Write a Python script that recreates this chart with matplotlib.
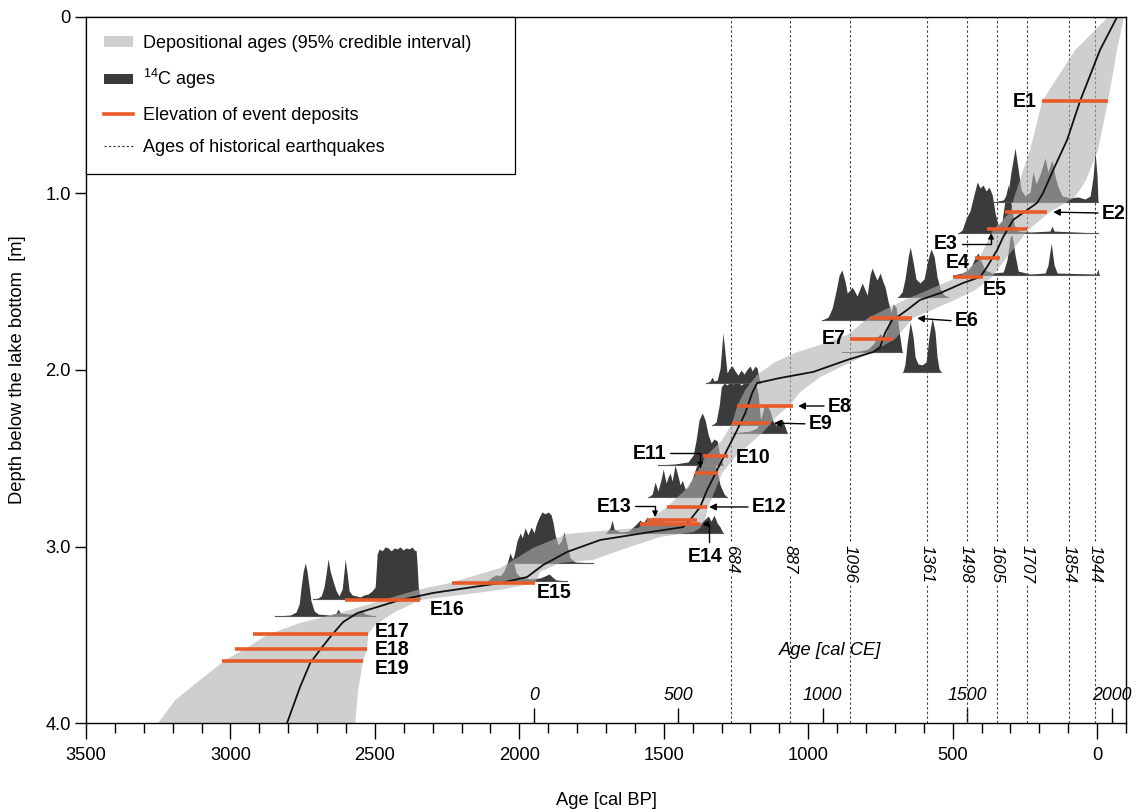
import numpy as np
import matplotlib
matplotlib.use("Agg")
import matplotlib.pyplot as plt
from matplotlib import font_manager
from matplotlib.lines import Line2D
from matplotlib.patches import Patch
from matplotlib.ticker import MultipleLocator, FixedLocator, NullLocator

# ------------------------------------------------------------------
# Age-depth model (ages in cal BP, depth in m below lake bottom)
# ------------------------------------------------------------------
median_age = [-69, -10, 59, 104, 152, 187, 208, 242, 291, 325,
              346, 381, 405, 464, 543, 613, 658, 692, 710, 734,
              751, 775, 865, 983, 1097, 1177, 1194, 1218, 1246, 1281,
              1298, 1350, 1374, 1409, 1433, 1547, 1720, 1835, 1918, 1973,
              2066, 2298, 2413, 2492, 2561, 2610, 2655, 2690, 2724, 2759,
              2804]
median_depth = [0, 0.187, 0.476, 0.697, 0.867, 0.997, 1.054, 1.093, 1.150, 1.246,
                1.320, 1.416, 1.473, 1.507, 1.564, 1.603, 1.660, 1.700, 1.717, 1.790,
                1.870, 1.898, 1.943, 2.011, 2.045, 2.074, 2.130, 2.244, 2.340, 2.453,
                2.510, 2.680, 2.776, 2.850, 2.890, 2.918, 2.963, 3.031, 3.105, 3.173,
                3.207, 3.263, 3.303, 3.343, 3.377, 3.428, 3.513, 3.586, 3.660, 3.796,
                4.0]

# 95 % credible envelope: older boundary and younger boundary
band_old_age = [-38, 76, 190, 232, 267, 287, 301, 360, 412, 481,
                585, 665, 793, 865, 959, 1038, 1115, 1177, 1218, 1246,
                1263, 1298, 1357, 1385, 1426, 1488, 1558, 1589, 1720, 1835,
                1952, 2066, 2240, 2354, 2471, 2610, 2759, 2873, 2956, 3018,
                3105, 3191, 3250]
band_old_depth = [0, 0.187, 0.476, 0.754, 0.924, 1.020, 1.105, 1.207, 1.382, 1.473,
                  1.547, 1.603, 1.705, 1.802, 1.858, 1.898, 1.955, 2.028, 2.113, 2.204,
                  2.300, 2.397, 2.493, 2.584, 2.680, 2.776, 2.856, 2.895, 2.912, 2.929,
                  3.008, 3.122, 3.207, 3.246, 3.303, 3.371, 3.433, 3.501, 3.586, 3.643,
                  3.756, 3.870, 4.0]
band_young_age = [-93, -69, -38, -3, 38, 76, 163, 239, 322, 363,
                  422, 492, 637, 699, 779, 865, 959, 1028, 1063, 1115,
                  1149, 1194, 1253, 1298, 1322, 1346, 1357, 1374, 1398, 1513,
                  1627, 1745, 1859, 1928, 1945, 2066, 2205, 2343, 2430, 2499,
                  2523, 2527, 2541, 2558, 2568]
band_young_depth = [0, 0.187, 0.476, 0.754, 0.924, 1.020, 1.105, 1.207, 1.382, 1.473,
                    1.547, 1.603, 1.705, 1.824, 1.898, 1.966, 2.040, 2.125, 2.198, 2.272,
                    2.340, 2.408, 2.493, 2.584, 2.680, 2.776, 2.850, 2.895, 2.918, 2.946,
                    3.008, 3.076, 3.093, 3.144, 3.207, 3.246, 3.275, 3.303, 3.371, 3.445,
                    3.496, 3.581, 3.649, 3.813, 4.0]

# ------------------------------------------------------------------
# Event deposits: depth and age span of the envelope at that depth
# ------------------------------------------------------------------
event_names = ["E1", "E2", "E3", "E4", "E5", "E6", "E7", "E8", "E9", "E10",
               "E11", "E12", "E13", "E14", "E15", "E16", "E17", "E18", "E19"]
event_depth = [0.476, 1.105, 1.201, 1.365, 1.473, 1.705, 1.824, 2.204, 2.300, 2.487,
               2.584, 2.776, 2.850, 2.873, 3.207, 3.303, 3.496, 3.581, 3.649]
event_old = [190, 318, 381, 422, 498, 786, 855, 1246, 1263, 1364,
             1391, 1488, 1558, 1582, 2233, 2603, 2921, 2984, 3029]
event_young = [-38, 173, 242, 336, 395, 640, 706, 1052, 1132, 1277,
               1312, 1350, 1384, 1374, 1945, 2343, 2523, 2527, 2541]

# Historical earthquakes (years CE)
quake_ce = [684, 887, 1096, 1361, 1498, 1605, 1707, 1854, 1944]

# ------------------------------------------------------------------
# Calibrated 14C age distributions (sample depth, ages, rel. probability)
# ------------------------------------------------------------------
c14_a_depth = 1.048
c14_a_age = [360, 325, 308, 298, 284, 273, 263, 249, 232, 222, 211, 197, 180, 170,
             156, 145, 135, 121, 93, 66, 42, 24, 14, 7, 0, -3]
c14_a_prob = [0, 2, 10, 30, 54, 32, 12, 6, 10, 30, 18, 28, 44, 30,
              42, 25, 15, 6, 4, 5, 3, 6, 25, 50, 25, 0]

c14_b_depth = 1.224
c14_b_age = [481, 467, 453, 440, 429, 415, 405, 395, 384, 374, 363, 353, 343, 329,
             318, 308, 298, 287, 273, 232, 163, 156, 149, -3]
c14_b_prob = [0, 3, 15, 22, 35, 51, 45, 48, 42, 46, 38, 20, 8, 12,
              35, 48, 30, 8, 2, 1, 2, 7, 2, 0]

c14_c_depth = 1.462
c14_c_age = [498, 467, 447, 433, 422, 412, 402, 388, 363, 325, 312, 301, 294, 284,
             273, 232, 180, 170, 159, 149, 138, 3, -3, -7]
c14_c_prob = [0, 2, 5, 10, 18, 22, 14, 5, 2, 3, 15, 38, 40, 20,
              4, 1, 2, 10, 32, 10, 2, 1, 6, 0]

c14_d_depth = 1.586
c14_d_age = [689, 675, 665, 654, 647, 637, 627, 613, 599, 585, 575, 564, 554, 543, 530, 516]
c14_d_prob = [0, 5, 18, 40, 50, 35, 18, 14, 18, 38, 48, 40, 20, 8, 2, 0]

c14_e_depth = 1.717
c14_e_age = [952, 931, 917, 903, 893, 883, 872, 865, 855, 848, 838, 831, 820, 813,
             803, 796, 786, 779, 768, 762, 751, 741, 734, 723, 713, 696, 665, 647]
c14_e_prob = [0, 3, 12, 30, 45, 50, 38, 27, 30, 33, 28, 24, 32, 37,
              30, 25, 45, 52, 44, 40, 47, 38, 33, 18, 8, 3, 1, 0]

c14_f_depth = 1.898
c14_f_age = [883, 820, 793, 775, 762, 751, 737, 727, 717, 706, 696, 685, 675]
c14_f_prob = [0, 1, 3, 8, 15, 18, 14, 22, 35, 48, 45, 20, 0]

c14_g_depth = 2.011
c14_g_age = [672, 665, 658, 647, 637, 630, 620, 606, 592, 582, 571, 561, 554, 547, 540]
c14_g_prob = [0, 8, 28, 50, 35, 15, 8, 7, 10, 35, 54, 40, 15, 3, 0]

c14_h_depth = 2.074
c14_h_age = [1353, 1340, 1333, 1326, 1315, 1305, 1298, 1295, 1288, 1281, 1274, 1263,
             1253, 1243, 1232, 1222, 1211, 1201, 1194, 1184, 1177, 1170, 1166]
c14_h_prob = [0, 2, 6, 2, 3, 15, 40, 50, 30, 10, 14, 17,
              12, 8, 13, 9, 14, 17, 12, 17, 15, 5, 0]

c14_i_depth = 2.312
c14_i_age = [1333, 1319, 1308, 1301, 1291, 1281, 1270, 1260, 1246, 1232, 1218, 1205,
             1191, 1180, 1173, 1166, 1156, 1132]
c14_i_prob = [0, 3, 20, 38, 42, 40, 43, 41, 44, 40, 43, 42,
              44, 40, 30, 8, 2, 0]

c14_j_depth = 2.357
c14_j_age = [1260, 1201, 1177, 1163, 1153, 1142, 1132, 1122, 1111, 1101, 1090, 1080, 1073]
c14_j_prob = [0, 2, 5, 15, 26, 28, 22, 12, 8, 10, 14, 6, 0]

c14_k_depth = 2.538
c14_k_age = [1520, 1461, 1416, 1398, 1388, 1378, 1367, 1357, 1346, 1336, 1326, 1315, 1305, 1295]
c14_k_prob = [0, 1, 3, 10, 25, 45, 52, 45, 30, 22, 26, 24, 8, 0]

c14_l_depth = 2.720
c14_l_age = [1554, 1540, 1530, 1520, 1509, 1502, 1492, 1485, 1478, 1471, 1461, 1450, 1443,
             1436, 1426, 1416, 1402, 1388, 1374, 1360, 1346, 1333, 1319, 1305, 1291, 1281]
c14_l_prob = [0, 3, 15, 6, 18, 28, 14, 20, 24, 16, 32, 20, 12,
              17, 8, 10, 18, 30, 38, 45, 50, 42, 30, 12, 3, 0]

c14_m_depth = 2.924
c14_m_age = [1700, 1686, 1679, 1672, 1651, 1623, 1606, 1592, 1582, 1571, 1558, 1547, 1537, 1523,
             1513, 1495, 1478, 1454, 1426, 1398, 1374, 1357, 1346, 1336, 1326, 1315, 1305, 1295]
c14_m_prob = [0, 5, 13, 4, 1, 2, 6, 10, 13, 10, 16, 12, 14, 12,
              16, 10, 8, 11, 8, 9, 10, 14, 17, 12, 18, 10, 6, 0]

c14_n_depth = 3.093
c14_n_age = [2028, 2018, 2008, 1997, 1990, 1980, 1970, 1959, 1949, 1942, 1931, 1921,
             1911, 1900, 1890, 1883, 1876, 1866, 1855, 1845, 1835, 1824, 1807, 1745]
c14_n_prob = [0, 8, 22, 30, 25, 35, 28, 36, 30, 38, 46, 51,
              49, 51, 48, 40, 28, 18, 22, 31, 18, 5, 1, 0]

c14_o_depth = 3.195
c14_o_age = [2111, 2094, 2080, 2066, 2053, 2042, 2032, 2021, 2011, 1997, 1963, 1928,
             1911, 1897, 1886, 1873, 1835]
c14_o_prob = [0, 4, 6, 5, 10, 18, 28, 20, 8, 4, 2, 3,
              5, 7, 4, 1, 0]

c14_p_depth = 3.297
c14_p_age = [2714, 2696, 2686, 2676, 2669, 2662, 2655, 2645, 2634, 2624, 2613, 2606, 2603,
             2596, 2589, 2579, 2565, 2551, 2537, 2523, 2510, 2499, 2492, 2485, 2475, 2465,
             2454, 2444, 2433, 2423, 2413, 2402, 2392, 2381, 2371, 2364, 2357, 2354, 2350, 2343]
c14_p_prob = [0, 1, 3, 12, 25, 40, 28, 18, 8, 3, 10, 30, 40,
              25, 8, 4, 3, 2, 4, 5, 8, 12, 45, 50, 48, 52,
              51, 48, 51, 50, 52, 49, 51, 50, 52, 49, 48, 35, 12, 0]

c14_q_depth = 3.394
c14_q_age = [2845, 2793, 2773, 2762, 2755, 2748, 2741, 2735, 2728, 2721, 2710, 2696,
             2655, 2634, 2627, 2620, 2586, 2558, 2544, 2534, 2499]
c14_q_prob = [0, 1, 4, 12, 30, 45, 53, 45, 30, 15, 5, 2,
              1, 3, 7, 3, 2, 3, 5, 2, 0]

c14_samples = [
    (c14_a_depth, c14_a_age, c14_a_prob), (c14_b_depth, c14_b_age, c14_b_prob),
    (c14_c_depth, c14_c_age, c14_c_prob), (c14_d_depth, c14_d_age, c14_d_prob),
    (c14_e_depth, c14_e_age, c14_e_prob), (c14_f_depth, c14_f_age, c14_f_prob),
    (c14_g_depth, c14_g_age, c14_g_prob), (c14_h_depth, c14_h_age, c14_h_prob),
    (c14_i_depth, c14_i_age, c14_i_prob), (c14_j_depth, c14_j_age, c14_j_prob),
    (c14_k_depth, c14_k_age, c14_k_prob), (c14_l_depth, c14_l_age, c14_l_prob),
    (c14_m_depth, c14_m_age, c14_m_prob), (c14_n_depth, c14_n_age, c14_n_prob),
    (c14_o_depth, c14_o_age, c14_o_prob), (c14_p_depth, c14_p_age, c14_p_prob),
    (c14_q_depth, c14_q_age, c14_q_prob),
]

bp_ticks = [3500, 3000, 2500, 2000, 1500, 1000, 500, 0]
ce_ticks = [0, 500, 1000, 1500, 2000]
depth_ticks = [0, 1, 2, 3, 4]
depth_ticklabels = ["0", "1.0", "2.0", "3.0", "4.0"]

# ------------------------------------------------------------------
# Style
# ------------------------------------------------------------------
installed = {f.name for f in font_manager.fontManager.ttflist}
if "Liberation Sans Narrow" in installed:
    base_font = "Liberation Sans Narrow"
    fs = 1.0
else:
    base_font = "Liberation Sans"
    fs = 0.88
plt.rcParams["font.family"] = [base_font, "DejaVu Sans"]
plt.rcParams["mathtext.fontset"] = "custom"
plt.rcParams["mathtext.rm"] = base_font
plt.rcParams["mathtext.it"] = base_font + ":italic"
plt.rcParams["mathtext.bf"] = base_font + ":bold"

BAND_COLOR = "#b0b0b0"
BAND_ALPHA = 0.6
PDF_COLOR = "#3b3b3b"
ORANGE = "#e85a28"
PDF_HEIGHT = 1.0 / 176.5   # depth units per unit of relative probability

fig = plt.figure(figsize=(11.4, 8.09), dpi=100)
ax = fig.add_axes([86 / 1140, 1 - 723 / 809, 1040 / 1140, 706 / 809])
ax.set_xlim(3500, -100)
ax.set_ylim(4.0, 0.0)

# historical earthquakes
for ce in quake_ce:
    bp = 1950 - ce
    ax.axvline(bp, color="#444444", lw=0.8, ls=(0, (2.2, 2.0)), zorder=0.5)
    ax.text(bp, 2.99, str(ce), rotation=270, ha="center", va="top",
            fontsize=14 * fs, style="italic", zorder=0.6,
            bbox=dict(fc="white", ec="none", pad=1.0))

# calibrated 14C distributions
for depth, ages, prob in c14_samples:
    ages = np.asarray(ages, float)
    prob = np.asarray(prob, float)
    ax.fill_between(ages, depth, depth - prob * PDF_HEIGHT, color=PDF_COLOR,
                    lw=0, zorder=1)
    ax.plot([ages.min(), ages.max()], [depth, depth], color="#555555", lw=0.8,
            zorder=1.1)

# age-depth envelope
env_age = np.concatenate([band_old_age, band_young_age[::-1]])
env_depth = np.concatenate([band_old_depth, band_young_depth[::-1]])
ax.fill(env_age, env_depth, color=BAND_COLOR, alpha=BAND_ALPHA, lw=0, zorder=2)

# median model
ax.plot(median_age, median_depth, color="#111111", lw=1.3, zorder=3)

# event deposits
ax.hlines(event_depth, event_old, event_young, color=ORANGE, lw=2.6, zorder=4)

# event labels: anchor (fraction from older to younger end), offset px, ha, arrow kind, shrink px
label_layout = {
    "E1": (0.0, -6, 0, "right", None, 0),
    "E2": (1.0, 55, -1, "left", "straight", 6),
    "E3": (0.1, -33, -15, "right", "elbow", 4),
    "E4": (0.0, -6, -5, "right", None, 0),
    "E5": (1.0, 12, -13, "center", None, 0),
    "E6": (1.0, 43, -3, "left", "straight", 5),
    "E7": (0.0, -4, 0, "right", None, 0),
    "E8": (1.0, 35, 0, "left", "straight", 5),
    "E9": (1.0, 39, -1, "left", "straight", 4),
    "E10": (1.0, 8, -2, "left", None, 0),
    "E11": (0.22, -34, 20, "right", "elbow", 5),
    "E12": (1.0, 45, 0, "left", "straight", 2),
    "E13": (0.16, -24, 14, "right", "elbow", 3),
    "E14": (1.0, 5, -32, "center", "up", 2),
    "E15": (1.0, 2, -9, "left", None, 0),
    "E16": (1.0, 10, -10, "left", None, 0),
    "E17": (1.0, 7, 3, "left", None, 0),
    "E18": (1.0, 8, 0, "left", None, 0),
    "E19": (1.0, 12, -7, "left", None, 0),
}
for name, depth, old, young in zip(event_names, event_depth, event_old, event_young):
    frac, dx, dy, ha, kind, shrink = label_layout[name]
    x = old + frac * (young - old)
    props = None
    if kind == "straight":
        props = dict(arrowstyle="-|>", color="k", lw=1.0, mutation_scale=10,
                     shrinkA=1, shrinkB=shrink * 0.72, relpos=(0.0, 0.5))
    elif kind == "elbow":
        props = dict(arrowstyle="-|>", color="k", lw=1.0, mutation_scale=8,
                     shrinkA=1, shrinkB=shrink * 0.72, relpos=(1.0, 0.5),
                     connectionstyle="angle,angleA=0,angleB=90,rad=0")
    elif kind == "up":
        props = dict(arrowstyle="-|>", color="k", lw=1.0, mutation_scale=8,
                     shrinkA=1, shrinkB=shrink * 0.72, relpos=(0.6, 1.0),
                     connectionstyle="angle,angleA=90,angleB=0,rad=0")
    ax.annotate(name, xy=(x, depth), xytext=(dx, dy), textcoords="offset pixels",
                ha=ha, va="center", fontsize=16 * fs, fontweight="bold",
                arrowprops=props, zorder=6, annotation_clip=False)

# axes, ticks
ax.xaxis.set_major_locator(FixedLocator(bp_ticks))
ax.xaxis.set_minor_locator(MultipleLocator(100))
ax.tick_params(axis="x", which="major", direction="out", length=11.5, width=1.0,
               labelsize=15 * fs, pad=6)
ax.tick_params(axis="x", which="minor", direction="out", length=7, width=1.0)
ax.set_yticks(depth_ticks)
ax.set_yticklabels(depth_ticklabels)
ax.tick_params(axis="y", which="major", direction="out", length=8, width=1.0,
               labelsize=15 * fs, pad=3)
for sp in ax.spines.values():
    sp.set_linewidth(1.0)
ax.set_xlabel("Age [cal BP]", fontsize=15 * fs, labelpad=20)
ax.set_ylabel("Depth below the lake bottom  [m]", fontsize=15 * fs, labelpad=14)

# calendar-age axis drawn along the bottom edge, ticks pointing up
sec = ax.secondary_xaxis("top", functions=(lambda b: 1950 - b, lambda c: 1950 - c))
sec.set_location(0.0)
sec.xaxis.set_major_locator(FixedLocator(ce_ticks))
sec.xaxis.set_minor_locator(NullLocator())
sec.tick_params(axis="x", which="major", direction="out", length=11, width=1.0,
                labelsize=14.5 * fs, pad=3, top=True, labeltop=True,
                bottom=False, labelbottom=False)
for sp in sec.spines.values():
    sp.set_visible(False)
for lab in sec.get_xticklabels():
    lab.set_style("italic")
ax.text(0.7155, 0.103, "Age [cal CE]", transform=ax.transAxes, ha="center",
        va="center", fontsize=15 * fs, style="italic")

# legend
handles = [
    Patch(facecolor=BAND_COLOR, alpha=BAND_ALPHA, edgecolor="none"),
    Patch(facecolor=PDF_COLOR, edgecolor="none"),
    Line2D([], [], color=ORANGE, lw=2.6),
    Line2D([], [], color="#333333", lw=0.8, ls=(0, (2.0, 2.0))),
]
labels = ["Depositional ages (95% credible interval)", "$^{14}$C ages",
          "Elevation of event deposits", "Ages of historical earthquakes"]
leg = ax.legend(handles, labels, loc="upper left", bbox_to_anchor=(0, 1, 0.4125, 0),
                mode="expand", borderaxespad=0, frameon=True, fancybox=False,
                framealpha=1, edgecolor="black", fontsize=14.7 * fs,
                handlelength=1.6, handleheight=0.55, handletextpad=0.6,
                labelspacing=0.85, borderpad=1.0)
leg.get_frame().set_linewidth(0.9)
leg.set_zorder(7)

fig.savefig("out.png", dpi=100)
